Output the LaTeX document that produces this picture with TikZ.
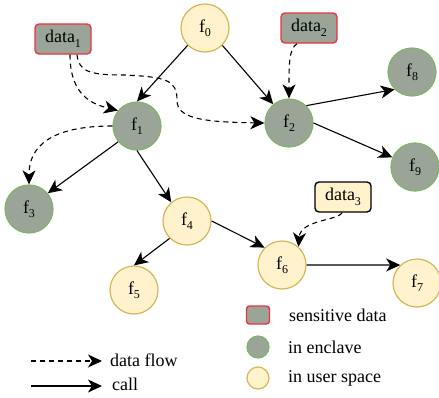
\documentclass[tikz,border=0pt]{standalone}
\usepackage{fontspec}
\setmainfont{Liberation Serif}
\usetikzlibrary{arrows.meta}

\definecolor{encfill}{HTML}{9AA598}
\definecolor{encdraw}{HTML}{82B366}
\definecolor{usrfill}{HTML}{FFF2CC}
\definecolor{usrdraw}{HTML}{D6B656}
\definecolor{sensdraw}{HTML}{EE3340}

% lowered, smaller subscript in the text font
\newcommand{\lowsub}[1]{\raisebox{-4.5pt}{\fontsize{12}{12}\selectfont #1}}

\tikzset{
  fn/.style={circle, minimum size=48pt, inner sep=0pt, line width=1.2pt,
             font=\fontsize{18}{18}\selectfont},
  enc/.style={fn, fill=encfill, draw=encdraw},
  usr/.style={fn, fill=usrfill, draw=usrdraw},
  databox/.style={rectangle, rounded corners=4pt, minimum width=56pt,
                  minimum height=30pt, inner sep=0pt, line width=1.4pt,
                  font=\fontsize{18}{18}\selectfont},
  sens/.style={databox, fill=encfill, draw=sensdraw},
  plaindata/.style={databox, fill=usrfill, draw=black},
  call/.style={-{Stealth[length=14pt,width=13pt,inset=4pt]}, line width=1.1pt},
  flow/.style={call, dash pattern=on 5pt off 4pt},
  lbl/.style={inner sep=0pt, anchor=west, font=\fontsize{18}{18}\selectfont}
}

\begin{document}
\begin{tikzpicture}[x=1pt,y=-1pt]
\useasboundingbox (0,0) rectangle (439,397);

% functions
\node[usr] (f0) at (205,28)  {f\lowsub{0}};
\node[enc] (f1) at (137,126) {f\lowsub{1}};
\node[enc] (f2) at (289,123) {f\lowsub{2}};
\node[enc] (f3) at (29,209)  {f\lowsub{3}};
\node[usr] (f4) at (187,221) {f\lowsub{4}};
\node[usr] (f5) at (134,290) {f\lowsub{5}};
\node[usr] (f6) at (282,265) {f\lowsub{6}};
\node[usr] (f7) at (417,283) {f\lowsub{7}};
\node[enc] (f8) at (412,72)  {f\lowsub{8}};
\node[enc] (f9) at (415,167) {f\lowsub{9}};

% data items
\node[sens]      (d1) at (63,39)   {data\lowsub{1}};
\node[sens]      (d2) at (309,28)  {data\lowsub{2}};
\node[plaindata] (d3) at (343,197) {data\lowsub{3}};

% calls
\draw[call] (f0.225) -- (f1.north);
\draw[call] (f0.315) -- (f2.130);
\draw[call] (f1.220) -- (f3.40);
\draw[call] (f1.south) -- (f4.130);
\draw[call] (f2.45) -- (f8.225);
\draw[call] (f2.east) -- (f9.157);
\draw[call] (f4.225) -- (f5.north);
\draw[call] (f4.east) -- (f6.135);
\draw[call] (f6.east) -- (f7.133);

% data flows
\draw[flow] ([xshift=7pt]d1.south) .. controls +(0,42) and +(-24,-6) .. (f1.141);
\draw[flow] ([xshift=14pt]d1.south) .. controls (79,72) and (90,75) .. (125,75)
            .. controls (166,77) and (177,80) .. (177,100)
            .. controls (177,118) and (200,122) .. (f2.west);
\draw[flow] (f1.west) .. controls (65,126) and (29,138) .. (f3.north);
\draw[flow] ([xshift=-12pt]d2.south) .. controls +(-8,5) and +(0,-35) .. (f2.north);
\draw[flow] ([xshift=-1pt]d3.south) .. controls +(-4,8) and +(2,-27) .. (f6.48);

% legend
\node[sens, minimum width=23pt, minimum height=18pt, rounded corners=3pt] (ls) at (258,315) {};
\node[enc, minimum size=22pt] (le) at (258,347) {};
\node[usr, minimum size=22pt] (lu) at (258,378) {};
\node[lbl] (lst) at (289,315) {sensitive data};
\node[lbl] (let) at (288,347) {in enclave};
\node[lbl] (lut) at (288,378) {in user space};

\coordinate (fa) at (31,361);
\coordinate (fb) at (102,361);
\coordinate (ca) at (31,386);
\coordinate (cb) at (102,386);
\draw[flow] (fa) -- (fb);
\draw[call] (ca) -- (cb);
\node[lbl] (lft) at (110,360) {data flow};
\node[lbl] (lct) at (112,384) {call};
\end{tikzpicture}
\end{document}
